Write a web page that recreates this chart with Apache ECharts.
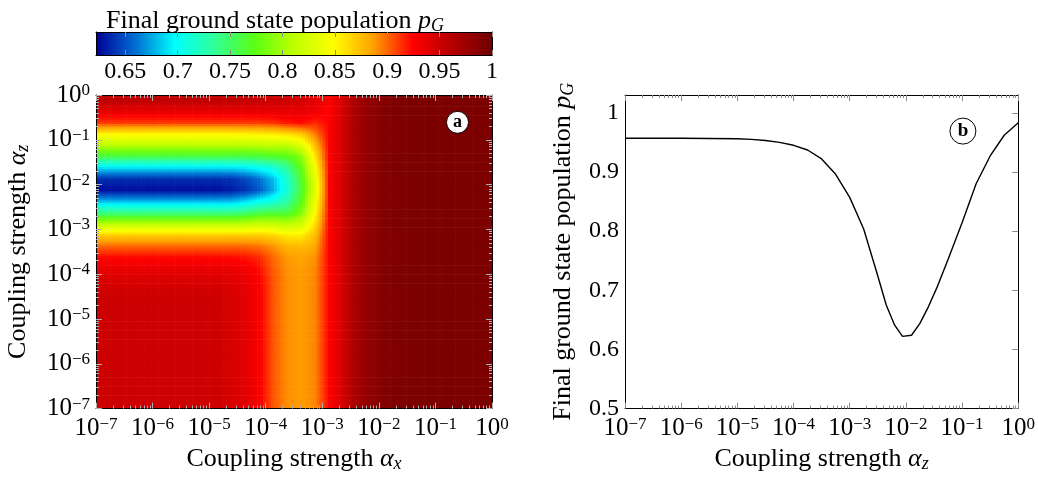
<!DOCTYPE html>
<html><head><meta charset="utf-8">
<script src="https://cdn.jsdelivr.net/npm/echarts@6/dist/echarts.min.js"></script>
<style>html,body{margin:0;padding:0;background:#fff}#c{width:1038px;height:478px}</style>
</head><body><div id="c"></div>
<script>
// ---------------- data ----------------
// heatmap grid nodes, log10 of coupling strengths
const alphaXExp = [-6.875,-6.625,-6.375,-6.125,-5.875,-5.625,-5.375,-5.125,-4.875,-4.625,-4.375,-4.125,-3.875,-3.625,-3.375,-3.125,-2.875,-2.625,-2.375,-2.125,-1.875,-1.625,-1.375,-1.125,-0.875,-0.625,-0.375,-0.125];
const alphaZExp = [-0.125,-0.375,-0.625,-0.875,-1.125,-1.375,-1.625,-1.875,-2.125,-2.375,-2.625,-2.875,-3.125,-3.375,-3.625,-3.875,-4.125,-4.375,-4.625,-4.875,-5.125,-5.375,-5.625,-5.875,-6.125,-6.375,-6.625,-6.875];
// final ground state population, one row per alphaZExp entry, one column per alphaXExp entry
const pGrid = [
[0.957,0.957,0.957,0.957,0.957,0.957,0.957,0.957,0.957,0.956,0.955,0.954,0.952,0.950,0.947,0.940,0.925,0.948,0.972,0.984,0.990,0.992,0.993,0.993,0.993,0.993,0.993,0.993],
[0.935,0.935,0.935,0.935,0.935,0.935,0.935,0.935,0.935,0.935,0.935,0.935,0.935,0.936,0.935,0.930,0.925,0.948,0.972,0.984,0.990,0.992,0.993,0.993,0.993,0.993,0.993,0.993],
[0.910,0.910,0.910,0.910,0.910,0.910,0.910,0.910,0.910,0.910,0.910,0.910,0.912,0.918,0.922,0.915,0.925,0.948,0.972,0.984,0.990,0.992,0.993,0.993,0.993,0.993,0.993,0.993],
[0.852,0.852,0.852,0.852,0.852,0.852,0.852,0.852,0.852,0.852,0.853,0.855,0.857,0.862,0.870,0.895,0.925,0.948,0.972,0.984,0.990,0.992,0.993,0.993,0.993,0.993,0.993,0.993],
[0.810,0.810,0.810,0.810,0.810,0.810,0.810,0.810,0.810,0.810,0.810,0.812,0.814,0.812,0.828,0.875,0.925,0.948,0.972,0.984,0.990,0.992,0.993,0.993,0.993,0.993,0.993,0.993],
[0.757,0.757,0.757,0.757,0.757,0.757,0.757,0.757,0.757,0.757,0.757,0.760,0.765,0.770,0.790,0.860,0.925,0.948,0.972,0.984,0.990,0.992,0.993,0.993,0.993,0.993,0.993,0.993],
[0.690,0.690,0.690,0.690,0.690,0.690,0.690,0.690,0.690,0.690,0.693,0.700,0.710,0.735,0.775,0.845,0.925,0.948,0.972,0.984,0.990,0.992,0.993,0.993,0.993,0.993,0.993,0.993],
[0.638,0.638,0.638,0.638,0.638,0.638,0.638,0.638,0.638,0.640,0.647,0.660,0.680,0.715,0.765,0.835,0.925,0.948,0.972,0.984,0.990,0.992,0.993,0.993,0.993,0.993,0.993,0.993],
[0.627,0.627,0.627,0.627,0.627,0.627,0.627,0.627,0.627,0.631,0.638,0.652,0.675,0.712,0.762,0.833,0.925,0.948,0.972,0.984,0.990,0.992,0.993,0.993,0.993,0.993,0.993,0.993],
[0.680,0.680,0.680,0.680,0.680,0.680,0.680,0.680,0.680,0.680,0.688,0.700,0.710,0.730,0.770,0.840,0.925,0.948,0.972,0.984,0.990,0.992,0.993,0.993,0.993,0.993,0.993,0.993],
[0.740,0.740,0.740,0.740,0.740,0.740,0.740,0.740,0.740,0.740,0.745,0.755,0.760,0.760,0.785,0.850,0.925,0.948,0.972,0.984,0.990,0.992,0.993,0.993,0.993,0.993,0.993,0.993],
[0.810,0.810,0.810,0.810,0.810,0.810,0.810,0.810,0.810,0.810,0.812,0.818,0.815,0.810,0.820,0.862,0.925,0.948,0.972,0.984,0.990,0.992,0.993,0.993,0.993,0.993,0.993,0.993],
[0.868,0.868,0.868,0.868,0.868,0.868,0.868,0.868,0.868,0.868,0.868,0.868,0.865,0.855,0.855,0.875,0.925,0.948,0.972,0.984,0.990,0.992,0.993,0.993,0.993,0.993,0.993,0.993],
[0.900,0.900,0.900,0.900,0.900,0.900,0.900,0.900,0.900,0.900,0.900,0.897,0.890,0.878,0.875,0.883,0.925,0.948,0.972,0.984,0.990,0.992,0.993,0.993,0.993,0.993,0.993,0.993],
[0.923,0.923,0.923,0.923,0.923,0.923,0.923,0.923,0.923,0.922,0.920,0.915,0.900,0.888,0.885,0.890,0.925,0.948,0.972,0.984,0.990,0.992,0.993,0.993,0.993,0.993,0.993,0.993],
[0.935,0.935,0.935,0.935,0.935,0.935,0.935,0.935,0.935,0.933,0.930,0.922,0.903,0.890,0.887,0.892,0.925,0.948,0.972,0.984,0.990,0.992,0.993,0.993,0.993,0.993,0.993,0.993],
[0.943,0.943,0.943,0.943,0.943,0.943,0.943,0.943,0.943,0.940,0.936,0.926,0.905,0.891,0.887,0.893,0.925,0.948,0.972,0.984,0.990,0.992,0.993,0.993,0.993,0.993,0.993,0.993],
[0.948,0.948,0.948,0.948,0.948,0.948,0.948,0.948,0.948,0.943,0.939,0.928,0.905,0.891,0.887,0.893,0.925,0.948,0.972,0.984,0.990,0.992,0.993,0.993,0.993,0.993,0.993,0.993],
[0.950,0.950,0.950,0.950,0.950,0.950,0.950,0.950,0.950,0.945,0.940,0.928,0.905,0.891,0.887,0.893,0.925,0.948,0.972,0.984,0.990,0.992,0.993,0.993,0.993,0.993,0.993,0.993],
[0.950,0.950,0.950,0.950,0.950,0.950,0.950,0.950,0.950,0.945,0.940,0.928,0.905,0.891,0.887,0.893,0.925,0.948,0.972,0.984,0.990,0.992,0.993,0.993,0.993,0.993,0.993,0.993],
[0.950,0.950,0.950,0.950,0.950,0.950,0.950,0.950,0.950,0.945,0.940,0.928,0.905,0.891,0.887,0.893,0.925,0.948,0.972,0.984,0.990,0.992,0.993,0.993,0.993,0.993,0.993,0.993],
[0.950,0.950,0.950,0.950,0.950,0.950,0.950,0.950,0.950,0.945,0.940,0.928,0.905,0.891,0.887,0.893,0.925,0.948,0.972,0.984,0.990,0.992,0.993,0.993,0.993,0.993,0.993,0.993],
[0.950,0.950,0.950,0.950,0.950,0.950,0.950,0.950,0.950,0.945,0.940,0.928,0.905,0.891,0.887,0.893,0.925,0.948,0.972,0.984,0.990,0.992,0.993,0.993,0.993,0.993,0.993,0.993],
[0.950,0.950,0.950,0.950,0.950,0.950,0.950,0.950,0.950,0.945,0.940,0.928,0.905,0.891,0.887,0.893,0.925,0.948,0.972,0.984,0.990,0.992,0.993,0.993,0.993,0.993,0.993,0.993],
[0.950,0.950,0.950,0.950,0.950,0.950,0.950,0.950,0.950,0.945,0.940,0.928,0.905,0.891,0.887,0.893,0.925,0.948,0.972,0.984,0.990,0.992,0.993,0.993,0.993,0.993,0.993,0.993],
[0.950,0.950,0.950,0.950,0.950,0.950,0.950,0.950,0.950,0.945,0.940,0.928,0.905,0.891,0.887,0.893,0.925,0.948,0.972,0.984,0.990,0.992,0.993,0.993,0.993,0.993,0.993,0.993],
[0.950,0.950,0.950,0.950,0.950,0.950,0.950,0.950,0.950,0.945,0.940,0.928,0.905,0.891,0.887,0.893,0.925,0.948,0.972,0.984,0.990,0.992,0.993,0.993,0.993,0.993,0.993,0.993],
[0.950,0.950,0.950,0.950,0.950,0.950,0.950,0.950,0.950,0.945,0.940,0.928,0.905,0.891,0.887,0.893,0.925,0.948,0.972,0.984,0.990,0.992,0.993,0.993,0.993,0.993,0.993,0.993]
];
// panel b: pG versus log10(alpha_z)
const lineZExp = [-7,-6.5,-6,-5.5,-5,-4.75,-4.5,-4.25,-4,-3.75,-3.5,-3.25,-3,-2.75,-2.5,-2.35,-2.2,-2.06,-1.9,-1.75,-1.6,-1.45,-1.25,-1,-0.75,-0.5,-0.25,0];
const linePG   = [0.957,0.957,0.957,0.9565,0.956,0.955,0.953,0.950,0.945,0.937,0.922,0.896,0.857,0.803,0.724,0.675,0.641,0.622,0.624,0.644,0.672,0.704,0.752,0.814,0.880,0.927,0.962,0.983];
// tick labels / ranges
const decadeTicks = [-7,-6,-5,-4,-3,-2,-1,0];
const pTicks = [0.5,0.6,0.7,0.8,0.9,1];
const cbarTicks = [0.65,0.7,0.75,0.8,0.85,0.9,0.95,1];
const cbarRange = [0.622, 1];
const labelA = [-0.61, -0.61];
const labelB = [-0.985, 0.969];

// ---------------- styling ----------------
const FONT = 'Liberation Serif';
const cmap = ['#000096','#006ed2','#00ffff','#30ff98','#5aff14','#beff00','#ffff00','#ffa000','#ff0000','#b40000','#700000'];
const cmapRGB = cmap.map(h => [1, 3, 5].map(i => parseInt(h.substr(i, 2), 16)));
function cmapColor(v) {
  let f = (v - cbarRange[0]) / (cbarRange[1] - cbarRange[0]);
  f = Math.max(0, Math.min(1, f));
  const t = f * (cmapRGB.length - 1);
  const i = Math.min(Math.floor(t), cmapRGB.length - 2);
  const w = t - i, a = cmapRGB[i], b = cmapRGB[i + 1];
  return 'rgb(' + [0, 1, 2].map(k => Math.round(a[k] + (b[k] - a[k]) * w)).join(',') + ')';
}
const nR = pGrid.length, nC = pGrid[0].length;
const clamp = (v, lo, hi) => Math.max(lo, Math.min(hi, v));
// smooth ("interp") shading between grid nodes, like the original surface plot
function shadeAt(rf, cf) {
  rf = clamp(rf, 0, nR - 1); cf = clamp(cf, 0, nC - 1);
  const r0 = Math.floor(rf), c0 = Math.floor(cf);
  const r1 = Math.min(r0 + 1, nR - 1), c1 = Math.min(c0 + 1, nC - 1);
  const wr = rf - r0, wc = cf - c0;
  return (1 - wr) * ((1 - wc) * pGrid[r0][c0] + wc * pGrid[r0][c1]) +
         wr * ((1 - wc) * pGrid[r1][c0] + wc * pGrid[r1][c1]);
}
const SUB = 5;

const minorExp = [];
for (let n = -7; n < 0; n++) for (let k = 2; k <= 9; k++) minorExp.push(n + Math.log10(k));

const heatData = [];
pGrid.forEach((row, r) => row.forEach((v, c) => heatData.push([alphaXExp[c], alphaZExp[r], v, r, c])));
const halfX = Math.abs(alphaXExp[1] - alphaXExp[0]) / 2;
const halfZ = Math.abs(alphaZExp[1] - alphaZExp[0]) / 2;

const decRich = {
  b: {fontSize: 25, fontFamily: FONT, color: '#000', lineHeight: 32},
  s: {fontSize: 17, fontFamily: FONT, color: '#000', verticalAlign: 'top', height: 23}
};
function decLabel(v) {
  const e = Math.round(v);
  return '{b|10}{s|' + (e === 0 ? '0' : '\u2212' + (-e)) + '}';
}
const nameRich = {
  n: {fontSize: 26, fontFamily: FONT, color: '#000', fontWeight: 'normal', lineHeight: 32},
  a: {fontSize: 26, fontFamily: FONT, color: '#000', fontWeight: 'normal', fontStyle: 'italic', lineHeight: 32},
  sub: {fontSize: 18, fontFamily: FONT, color: '#000', fontWeight: 'normal', fontStyle: 'italic', verticalAlign: 'bottom', height: 22}
};
const numLabel = v => String(+(+v).toFixed(2));

function ax(o) {
  return Object.assign({
    type: 'value', splitLine: {show: false},
    axisLine: {show: false, onZero: false},
    axisTick: {show: false}, axisLabel: {show: false}, z: 10
  }, o);
}
const lineOn = {show: true, onZero: false, lineStyle: {color: '#000', width: 1}};
const majT = (c, len) => ({show: true, inside: true, length: len, lineStyle: {color: c, width: 1}});
const minT = (c, len) => ({show: true, inside: true, length: len, customValues: minorExp, lineStyle: {color: c, width: 1}});
const HG = '#b0b0b0', RG = '#8a8a8a';
const dec = {min: -7, max: 0, interval: 1};

const option = {
  animation: false,
  backgroundColor: '#fff',
  title: {
    left: 101, top: 0,
    text: '{n|Final ground state population }{a|p}{sub|G}',
    textStyle: {fontWeight: 'normal', rich: nameRich}
  },
  grid: [
    {left: 96, top: 95, width: 396, height: 317},
    {left: 625, top: 95, width: 396, height: 317},
    {left: 96, top: 32, width: 396, height: 23}
  ],
  xAxis: [
    ax(Object.assign({gridIndex: 0, position: 'bottom', axisLine: lineOn, axisTick: majT(HG, 6),
      axisLabel: {show: true, formatter: decLabel, rich: decRich, margin: 4},
      name: '{n|Coupling strength }{a|\u03b1}{sub|x}', nameLocation: 'middle', nameGap: 33,
      nameTextStyle: {rich: nameRich}}, dec)),
    ax(Object.assign({gridIndex: 0, position: 'bottom', axisTick: minT(HG, 3)}, dec)),
    ax(Object.assign({gridIndex: 0, position: 'top', axisLine: lineOn, axisTick: majT(HG, 6)}, dec)),
    ax(Object.assign({gridIndex: 0, position: 'top', axisTick: minT(HG, 3)}, dec)),
    ax(Object.assign({gridIndex: 1, position: 'bottom', axisLine: lineOn, axisTick: majT(RG, 6),
      axisLabel: {show: true, formatter: decLabel, rich: decRich, margin: 4},
      name: '{n|Coupling strength }{a|\u03b1}{sub|z}', nameLocation: 'middle', nameGap: 33,
      nameTextStyle: {rich: nameRich}}, dec)),
    ax(Object.assign({gridIndex: 1, position: 'bottom', axisTick: minT(RG, 3)}, dec)),
    ax(Object.assign({gridIndex: 1, position: 'top', axisLine: lineOn, axisTick: majT(RG, 6)}, dec)),
    ax(Object.assign({gridIndex: 1, position: 'top', axisTick: minT(RG, 3)}, dec)),
    ax({gridIndex: 2, position: 'bottom', min: cbarRange[0], max: cbarRange[1], axisLine: lineOn,
      axisTick: {show: true, inside: true, length: 5, customValues: cbarTicks, lineStyle: {color: '#888'}},
      axisLabel: {show: true, customValues: cbarTicks, formatter: numLabel, fontFamily: FONT, fontSize: 24, color: '#000', margin: 5}}),
    ax({gridIndex: 2, position: 'top', min: cbarRange[0], max: cbarRange[1], axisLine: lineOn,
      axisTick: {show: true, inside: true, length: 5, customValues: cbarTicks, lineStyle: {color: '#888'}}})
  ],
  yAxis: [
    ax(Object.assign({gridIndex: 0, position: 'left', axisLine: lineOn, axisTick: majT(HG, 6),
      axisLabel: {show: true, formatter: decLabel, rich: decRich, margin: 6},
      name: '{n|Coupling strength }{a|\u03b1}{sub|z}', nameLocation: 'middle', nameGap: 62, nameRotate: 90,
      nameTextStyle: {rich: nameRich}}, dec)),
    ax(Object.assign({gridIndex: 0, position: 'left', axisTick: minT(HG, 3)}, dec)),
    ax(Object.assign({gridIndex: 0, position: 'right', axisLine: lineOn, axisTick: majT(HG, 6)}, dec)),
    ax(Object.assign({gridIndex: 0, position: 'right', axisTick: minT(HG, 3)}, dec)),
    ax({gridIndex: 1, position: 'left', min: 0.5, max: 1.03, axisLine: lineOn,
      axisLabel: {show: true, customValues: pTicks, formatter: numLabel, fontFamily: FONT, fontSize: 24, color: '#000', margin: 6},
      name: '{n|Final ground state population }{a|p}{sub|G}', nameLocation: 'middle', nameGap: 46, nameRotate: 90,
      nameTextStyle: {rich: nameRich}}),
    ax({gridIndex: 1, position: 'right', min: 0.5, max: 1.03, axisLine: lineOn,
      axisTick: {show: true, inside: true, length: 6, customValues: pTicks, lineStyle: {color: RG}}}),
    ax({gridIndex: 2, position: 'left', min: 0, max: 1, axisLine: lineOn}),
    ax({gridIndex: 2, position: 'right', min: 0, max: 1, axisLine: lineOn})
  ],
  series: [
    {
      type: 'custom', xAxisIndex: 0, yAxisIndex: 0, clip: true, data: heatData,
      renderItem(params, api) {
        const x = api.value(0), z = api.value(1), r = api.value(3), c = api.value(4);
        const children = [];
        for (let i = 0; i < SUB; i++) {
          for (let j = 0; j < SUB; j++) {
            const xa = x - halfX + 2 * halfX * i / SUB, xb = x - halfX + 2 * halfX * (i + 1) / SUB;
            const za = z + halfZ - 2 * halfZ * j / SUB, zb = z + halfZ - 2 * halfZ * (j + 1) / SUB;
            const p0 = api.coord([xa, za]), p1 = api.coord([xb, zb]);
            const v = shadeAt(r + (j + 0.5) / SUB - 0.5, c + (i + 0.5) / SUB - 0.5);
            children.push({type: 'rect',
              shape: {x: p0[0], y: p0[1], width: p1[0] - p0[0] + 0.6, height: p1[1] - p0[1] + 0.6},
              style: {fill: cmapColor(v)}});
          }
        }
        return {type: 'group', children};
      }
    },
    {
      type: 'scatter', xAxisIndex: 0, yAxisIndex: 0, z: 20, data: [labelA],
      symbol: 'circle', symbolSize: 22,
      itemStyle: {color: '#fff', borderColor: '#000', borderWidth: 1, opacity: 1},
      label: {show: true, position: 'inside', formatter: 'a', fontFamily: FONT, fontWeight: 'bold', fontSize: 18, color: '#000'}
    },
    {
      type: 'line', xAxisIndex: 4, yAxisIndex: 4, showSymbol: false, symbol: 'none',
      lineStyle: {color: '#000', width: 1.4},
      data: lineZExp.map((z, i) => [z, linePG[i]])
    },
    {
      type: 'scatter', xAxisIndex: 4, yAxisIndex: 4, z: 20, data: [labelB],
      symbol: 'circle', symbolSize: 26,
      itemStyle: {color: '#fff', borderColor: '#000', borderWidth: 1, opacity: 1},
      label: {show: true, position: 'inside', formatter: 'b', fontFamily: FONT, fontWeight: 'bold', fontSize: 19, color: '#000'}
    },
    {
      type: 'custom', xAxisIndex: 8, yAxisIndex: 6, data: [[cbarRange[0], cbarRange[1]]],
      renderItem(params, api) {
        const p0 = api.coord([api.value(0), 1]);
        const p1 = api.coord([api.value(1), 0]);
        return {type: 'rect',
          shape: {x: p0[0], y: p0[1], width: p1[0] - p0[0], height: p1[1] - p0[1]},
          style: {fill: new echarts.graphic.LinearGradient(0, 0, 1, 0,
            cmap.map((c, i) => ({offset: i / (cmap.length - 1), color: c})))}};
      }
    }
  ]
};
const chart = echarts.init(document.getElementById('c'));
chart.setOption(option);
</script>
</body></html>
